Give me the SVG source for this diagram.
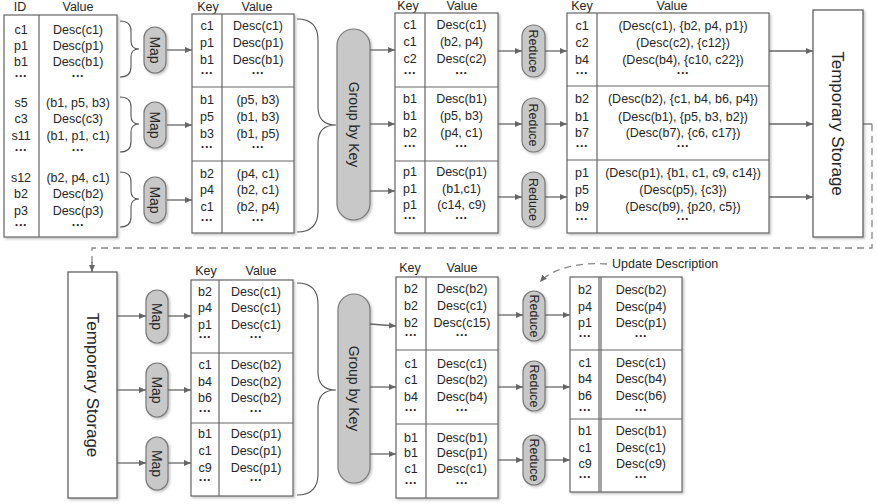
<svg xmlns="http://www.w3.org/2000/svg" width="877" height="504" viewBox="0 0 877 504">
<defs>
  <style>
    text{font-family:"Liberation Sans",Arial,sans-serif;font-size:12.5px;fill:#262626;text-anchor:middle}
    .tb{fill:#fff;stroke:#666;stroke-width:1.2}
    .ln{stroke:#666;stroke-width:1.2;fill:none}
    .br{stroke:#555;stroke-width:1.1;fill:none}
    .pill{fill:#c8c8c8;stroke:#7a7a7a;stroke-width:1.2}
    .box{fill:#fff;stroke:#555;stroke-width:1.2}
    .ar{stroke:#666;stroke-width:1.3;fill:none;marker-end:url(#ah)}
    .dash{stroke:#888;stroke-width:1.3;fill:none;stroke-dasharray:7 5}
    .big{font-size:17px}
    .op{font-size:14px}
    .rd{font-size:12.5px}
    .dots{font-weight:bold}
  </style>
  <marker id="ah" markerWidth="8" markerHeight="8" refX="7" refY="4" orient="auto" markerUnits="userSpaceOnUse">
    <path d="M0,1 L7,4 L0,7 Z" fill="#666"/>
  </marker>
  <filter id="sh" x="-10%" y="-10%" width="130%" height="130%">
    <feDropShadow dx="1.5" dy="1.5" stdDeviation="1" flood-color="#999" flood-opacity="0.6"/>
  </filter>
</defs>
<rect width="877" height="504" fill="#fff"/>

<!-- input records -->
<g id="input-table">
  <text x="20" y="10.5">ID</text><text x="78" y="10.5">Value</text>
  <rect class="tb" x="4" y="15" width="113" height="222" filter="url(#sh)"/>
  <line class="ln" x1="39" y1="15" x2="39" y2="237"/>
  <text x="21" y="33.5">c1</text><text x="78" y="33.5">Desc(c1)</text>
  <text x="21" y="49.5">p1</text><text x="78" y="49.5">Desc(p1)</text>
  <text x="21" y="66">b1</text><text x="78" y="66">Desc(b1)</text>
  <text class="dots" x="21" y="80">···</text><text class="dots" x="78" y="80">···</text>
  <text x="21" y="106.5">s5</text><text x="78" y="106.5">(b1, p5, b3)</text>
  <text x="21" y="122.5">c3</text><text x="78" y="122.5">Desc(c3)</text>
  <text x="21" y="139.5">s11</text><text x="78" y="139.5">(b1, p1, c1)</text>
  <text class="dots" x="21" y="154">···</text><text class="dots" x="78" y="154">···</text>
  <text x="21" y="181.5">s12</text><text x="78" y="181.5">(b2, p4, c1)</text>
  <text x="21" y="197.5">b2</text><text x="78" y="197.5">Desc(b2)</text>
  <text x="21" y="214.5">p3</text><text x="78" y="214.5">Desc(p3)</text>
  <text class="dots" x="21" y="229">···</text><text class="dots" x="78" y="229">···</text>
</g>

<!-- braces over input groups -->
<g id="input-braces">
  <path class="br" d="M120,21 Q131,21 131,31 L131,41 Q131,49 139,49 Q131,49 131,57 L131,67 Q131,77 120,77"/>
  <path class="br" d="M120,97 Q131,97 131,107 L131,116 Q131,124 139,124 Q131,124 131,132 L131,142 Q131,152 120,152"/>
  <path class="br" d="M120,172 Q131,172 131,182 L131,191 Q131,199 139,199 Q131,199 131,207 L131,217 Q131,227 120,227"/>
</g>

<g id="map-1"><rect class="pill" x="144" y="27" width="22" height="46" rx="11" filter="url(#sh)"/><text class="op" transform="translate(155,50) rotate(90)" y="5">Map</text></g>
<g id="map-2"><rect class="pill" x="144" y="102" width="22" height="46" rx="11" filter="url(#sh)"/><text class="op" transform="translate(155,125) rotate(90)" y="5">Map</text></g>
<g id="map-3"><rect class="pill" x="144" y="177" width="22" height="46" rx="11" filter="url(#sh)"/><text class="op" transform="translate(155,200) rotate(90)" y="5">Map</text></g>

<!-- map output -->
<g id="map-output">
  <text x="208" y="10.5">Key</text><text x="257" y="10.5">Value</text>
  <rect class="tb" x="192" y="14" width="102" height="219" filter="url(#sh)"/>
  <line class="ln" x1="222" y1="14" x2="222" y2="233"/>
  <line class="ln" x1="192" y1="87" x2="294" y2="87"/>
  <line class="ln" x1="192" y1="161" x2="294" y2="161"/>
  <text x="207" y="29.5">c1</text><text x="258" y="29.5">Desc(c1)</text>
  <text x="207" y="46.5">p1</text><text x="258" y="46.5">Desc(p1)</text>
  <text x="207" y="63.5">b1</text><text x="258" y="63.5">Desc(b1)</text>
  <text class="dots" x="207" y="77">···</text><text class="dots" x="258" y="77">···</text>
  <text x="207" y="103.5">b1</text><text x="258" y="103.5">(p5, b3)</text>
  <text x="207" y="120.5">p5</text><text x="258" y="120.5">(b1, b3)</text>
  <text x="207" y="137.5">b3</text><text x="258" y="137.5">(b1, p5)</text>
  <text class="dots" x="207" y="151">···</text><text class="dots" x="258" y="151">···</text>
  <text x="207" y="177.5">b2</text><text x="258" y="177.5">(p4, c1)</text>
  <text x="207" y="193.5">p4</text><text x="258" y="193.5">(b2, c1)</text>
  <text x="207" y="210.5">c1</text><text x="258" y="210.5">(b2, p4)</text>
  <text class="dots" x="207" y="224">···</text><text class="dots" x="258" y="224">···</text>
</g>

<path id="brace-top" class="br" d="M297,19 Q318,19 318,40 L318,107 Q318,125 336,125 Q318,125 318,143 L318,211 Q318,232 297,232"/>

<g id="group-by-key-1"><rect class="pill" x="337" y="29" width="33" height="191" rx="16.5" filter="url(#sh)"/><text class="op" transform="translate(353.5,124.5) rotate(90)" y="5">Group by Key</text></g>

<!-- grouped records -->
<g id="grouped-table">
  <text x="408" y="10">Key</text><text x="462" y="10">Value</text>
  <rect class="tb" x="395" y="13" width="103" height="220" filter="url(#sh)"/>
  <line class="ln" x1="425" y1="13" x2="425" y2="233"/>
  <line class="ln" x1="395" y1="87" x2="498" y2="87"/>
  <line class="ln" x1="395" y1="161" x2="498" y2="161"/>
  <text x="410" y="28.5">c1</text><text x="461.5" y="28.5">Desc(c1)</text>
  <text x="410" y="45.5">c1</text><text x="461.5" y="45.5">(b2, p4)</text>
  <text x="410" y="62.5">c2</text><text x="461.5" y="62.5">Desc(c2)</text>
  <text class="dots" x="410" y="77">···</text><text class="dots" x="461.5" y="77">···</text>
  <text x="410" y="102.5">b1</text><text x="461.5" y="102.5">Desc(b1)</text>
  <text x="410" y="119.5">b1</text><text x="461.5" y="119.5">(p5, b3)</text>
  <text x="410" y="136.5">b2</text><text x="461.5" y="136.5">(p4, c1)</text>
  <text class="dots" x="410" y="150">···</text><text class="dots" x="461.5" y="150">···</text>
  <text x="410" y="175.5">p1</text><text x="461.5" y="175.5">Desc(p1)</text>
  <text x="410" y="192.5">p1</text><text x="461.5" y="192.5">(b1,c1)</text>
  <text x="410" y="208.5">p1</text><text x="461.5" y="208.5">(c14, c9)</text>
  <text class="dots" x="410" y="222">···</text><text class="dots" x="461.5" y="222">···</text>
</g>

<g id="reduce-1"><rect class="pill" x="522" y="25" width="23" height="52" rx="11.5" filter="url(#sh)"/><text class="rd" transform="translate(533.5,51) rotate(90)" y="4.5">Reduce</text></g>
<g id="reduce-2"><rect class="pill" x="522" y="98" width="23" height="54" rx="11.5" filter="url(#sh)"/><text class="rd" transform="translate(533.5,125) rotate(90)" y="4.5">Reduce</text></g>
<g id="reduce-3"><rect class="pill" x="522" y="172" width="23" height="55" rx="11.5" filter="url(#sh)"/><text class="rd" transform="translate(533.5,199.5) rotate(90)" y="4.5">Reduce</text></g>

<!-- reduce output -->
<g id="reduce-output">
  <text x="582" y="10">Key</text><text x="672" y="10">Value</text>
  <rect class="tb" x="567" y="13" width="202" height="220" filter="url(#sh)"/>
  <line class="ln" x1="597" y1="13" x2="597" y2="233"/>
  <line class="ln" x1="567" y1="86" x2="769" y2="86"/>
  <line class="ln" x1="567" y1="160" x2="769" y2="160"/>
  <text x="582" y="29.5">c1</text><text x="683" y="29.5">(Desc(c1), {b2, p4, p1})</text>
  <text x="582" y="46.5">c2</text><text x="683" y="46.5">(Desc(c2), {c12})</text>
  <text x="582" y="63.5">b4</text><text x="683" y="63.5">(Desc(b4), {c10, c22})</text>
  <text class="dots" x="582" y="77">···</text><text class="dots" x="683" y="77">···</text>
  <text x="582" y="102.5">b2</text><text x="683" y="102.5">(Desc(b2), {c1, b4, b6, p4})</text>
  <text x="582" y="120.5">b1</text><text x="683" y="120.5">(Desc(b1), {p5, b3, b2})</text>
  <text x="582" y="136.5">b7</text><text x="683" y="136.5">(Desc(b7), {c6, c17})</text>
  <text class="dots" x="582" y="150">···</text><text class="dots" x="683" y="150">···</text>
  <text x="582" y="176.5">p1</text><text x="683" y="176.5">(Desc(p1), {b1, c1, c9, c14})</text>
  <text x="582" y="193.5">p5</text><text x="683" y="193.5">(Desc(p5), {c3})</text>
  <text x="582" y="210.5">b9</text><text x="683" y="210.5">(Desc(b9), {p20, c5})</text>
  <text class="dots" x="582" y="223">···</text><text class="dots" x="683" y="223">···</text>
</g>

<g id="temp-storage-1"><rect class="box" x="813" y="10" width="50" height="227" filter="url(#sh)"/><text class="big" transform="translate(838,123.5) rotate(90)" y="6">Temporary Storage</text></g>

<!-- second round -->
<g id="temp-storage-2"><rect class="box" x="68" y="272" width="49" height="226" filter="url(#sh)"/><text class="big" transform="translate(92.5,385) rotate(90)" y="6">Temporary Storage</text></g>

<g id="map-4"><rect class="pill" x="146" y="290" width="22" height="53" rx="11" filter="url(#sh)"/><text class="op" transform="translate(157,316.5) rotate(90)" y="5">Map</text></g>
<g id="map-5"><rect class="pill" x="146" y="363" width="22" height="54" rx="11" filter="url(#sh)"/><text class="op" transform="translate(157,390) rotate(90)" y="5">Map</text></g>
<g id="map-6"><rect class="pill" x="146" y="437" width="22" height="53" rx="11" filter="url(#sh)"/><text class="op" transform="translate(157,463.5) rotate(90)" y="5">Map</text></g>

<g id="map-output-2">
  <text x="206" y="275">Key</text><text x="261" y="275">Value</text>
  <rect class="tb" x="191" y="280" width="102" height="216" filter="url(#sh)"/>
  <line class="ln" x1="219" y1="280" x2="219" y2="496"/>
  <line class="ln" x1="191" y1="353" x2="293" y2="353"/>
  <line class="ln" x1="191" y1="423" x2="293" y2="423"/>
  <text x="205" y="295.5">b2</text><text x="256" y="295.5">Desc(c1)</text>
  <text x="205" y="311.5">p4</text><text x="256" y="311.5">Desc(c1)</text>
  <text x="205" y="328.5">p1</text><text x="256" y="328.5">Desc(c1)</text>
  <text class="dots" x="205" y="341">···</text><text class="dots" x="256" y="341">···</text>
  <text x="205" y="368.5">c1</text><text x="256" y="368.5">Desc(b2)</text>
  <text x="205" y="385.5">b4</text><text x="256" y="385.5">Desc(b2)</text>
  <text x="205" y="401.5">b6</text><text x="256" y="401.5">Desc(b2)</text>
  <text class="dots" x="205" y="415">···</text><text class="dots" x="256" y="415">···</text>
  <text x="205" y="437.5">b1</text><text x="256" y="437.5">Desc(p1)</text>
  <text x="205" y="454.5">c1</text><text x="256" y="454.5">Desc(p1)</text>
  <text x="205" y="471.5">c9</text><text x="256" y="471.5">Desc(p1)</text>
  <text class="dots" x="205" y="484">···</text><text class="dots" x="256" y="484">···</text>
</g>

<path id="brace-bottom" class="br" d="M297,283 Q318,283 318,304 L318,372 Q318,390 336,390 Q318,390 318,408 L318,474 Q318,495 297,495"/>

<g id="group-by-key-2"><rect class="pill" x="338" y="294" width="32" height="189" rx="16" filter="url(#sh)"/><text class="op" transform="translate(354,388.5) rotate(90)" y="5">Group by Key</text></g>

<g id="grouped-table-2">
  <text x="410" y="272">Key</text><text x="462" y="272">Value</text>
  <rect class="tb" x="396" y="277" width="102" height="221" filter="url(#sh)"/>
  <line class="ln" x1="426" y1="277" x2="426" y2="498"/>
  <line class="ln" x1="396" y1="350" x2="498" y2="350"/>
  <line class="ln" x1="396" y1="424" x2="498" y2="424"/>
  <text x="411" y="292.5">b2</text><text x="462" y="292.5">Desc(b2)</text>
  <text x="411" y="309.5">b2</text><text x="462" y="309.5">Desc(c1)</text>
  <text x="411" y="326.5">b2</text><text x="462" y="326.5">Desc(c15)</text>
  <text class="dots" x="411" y="339">···</text><text class="dots" x="462" y="339">···</text>
  <text x="411" y="367.5">c1</text><text x="462" y="367.5">Desc(c1)</text>
  <text x="411" y="383.5">c1</text><text x="462" y="383.5">Desc(b2)</text>
  <text x="411" y="400.5">b4</text><text x="462" y="400.5">Desc(b4)</text>
  <text class="dots" x="411" y="414">···</text><text class="dots" x="462" y="414">···</text>
  <text x="411" y="441.5">b1</text><text x="462" y="441.5">Desc(b1)</text>
  <text x="411" y="456.5">b1</text><text x="462" y="456.5">Desc(p1)</text>
  <text x="411" y="472.5">c1</text><text x="462" y="472.5">Desc(c1)</text>
  <text class="dots" x="411" y="487">···</text><text class="dots" x="462" y="487">···</text>
</g>

<g id="reduce-4"><rect class="pill" x="523" y="291" width="22" height="50" rx="11" filter="url(#sh)"/><text class="rd" transform="translate(534,316) rotate(90)" y="4.5">Reduce</text></g>
<g id="reduce-5"><rect class="pill" x="523" y="361" width="22" height="50" rx="11" filter="url(#sh)"/><text class="rd" transform="translate(534,386) rotate(90)" y="4.5">Reduce</text></g>
<g id="reduce-6"><rect class="pill" x="523" y="435" width="22" height="50" rx="11" filter="url(#sh)"/><text class="rd" transform="translate(534,460) rotate(90)" y="4.5">Reduce</text></g>

<g id="updated-table">
  <rect class="tb" x="570" y="277" width="112" height="215" filter="url(#sh)"/>
  <line class="ln" x1="599" y1="277" x2="599" y2="492"/>
  <line class="ln" x1="601" y1="277" x2="601" y2="492"/>
  <line class="ln" x1="570" y1="350" x2="682" y2="350"/>
  <line class="ln" x1="570" y1="419" x2="682" y2="419"/>
  <text x="585" y="293.5">b2</text><text x="641" y="293.5">Desc(b2)</text>
  <text x="585" y="310.5">p4</text><text x="641" y="310.5">Desc(p4)</text>
  <text x="585" y="326.5">p1</text><text x="641" y="326.5">Desc(p1)</text>
  <text class="dots" x="585" y="340">···</text><text class="dots" x="641" y="340">···</text>
  <text x="585" y="366.5">c1</text><text x="641" y="366.5">Desc(c1)</text>
  <text x="585" y="382.5">b4</text><text x="641" y="382.5">Desc(b4)</text>
  <text x="585" y="399.5">b6</text><text x="641" y="399.5">Desc(b6)</text>
  <text class="dots" x="585" y="414">···</text><text class="dots" x="641" y="414">···</text>
  <text x="585" y="434.5">b1</text><text x="641" y="434.5">Desc(b1)</text>
  <text x="585" y="451.5">c1</text><text x="641" y="451.5">Desc(c1)</text>
  <text x="585" y="467.5">c9</text><text x="641" y="467.5">Desc(c9)</text>
  <text class="dots" x="585" y="481">···</text><text class="dots" x="641" y="481">···</text>
</g>

<text id="update-label" x="612" y="268" style="text-anchor:start">Update Description</text>

<!-- connectors -->
<g id="connectors">
  <path class="ar" d="M167,50 H192"/>
  <path class="ar" d="M167,125 H192"/>
  <path class="ar" d="M167,200 H192"/>
  <path class="ar" d="M370,50 H395"/>
  <path class="ar" d="M370,124 H395"/>
  <path class="ar" d="M370,191 H395"/>
  <path class="ar" d="M498,51 H522"/>
  <path class="ar" d="M498,124 H522"/>
  <path class="ar" d="M498,197 H522"/>
  <path class="ar" d="M545,51 H567"/>
  <path class="ar" d="M545,124 H567"/>
  <path class="ar" d="M545,197 H567"/>
  <path class="ar" d="M769,51 H813"/>
  <path class="ar" d="M769,124 H813"/>
  <path class="ar" d="M769,197 H813"/>
  <path class="ln" d="M863,124 H872"/>
  <path class="dash" d="M872,124 V248 H92 V264"/>
  <path class="ar" d="M92,262 V272"/>
  <path class="ar" d="M117,316 H146"/>
  <path class="ar" d="M117,390 H146"/>
  <path class="ar" d="M117,463 H146"/>
  <path class="ar" d="M168,316 H191"/>
  <path class="ar" d="M168,390 H191"/>
  <path class="ar" d="M168,463 H191"/>
  <path class="ar" d="M370,324 L396,326"/>
  <path class="ar" d="M370,387 H396"/>
  <path class="ar" d="M370,454 H396"/>
  <path class="ar" d="M498,315 H523"/>
  <path class="ar" d="M498,387 H523"/>
  <path class="ar" d="M498,460 H523"/>
  <path class="ar" d="M545,315 H570"/>
  <path class="ar" d="M545,387 H570"/>
  <path class="ar" d="M545,460 H570"/>
  <path class="dash" d="M607,264 C582,262 552,268 540,282" style="marker-end:url(#ah)"/>
</g>
</svg>
